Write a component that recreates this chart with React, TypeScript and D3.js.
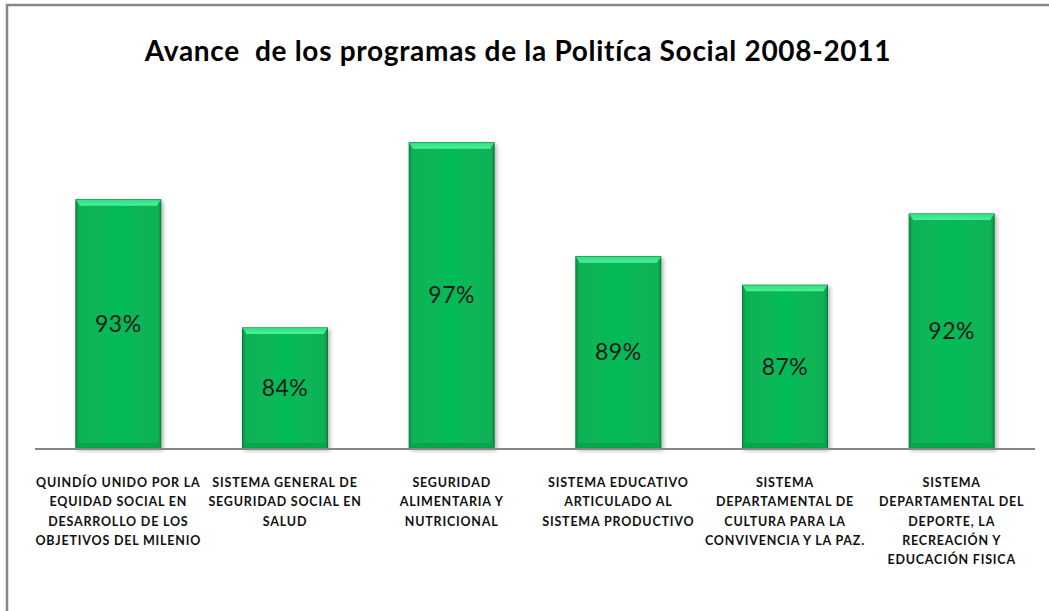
import { useRef, useEffect } from 'react';
import * as d3 from 'd3';

const categories: string[][] = [
  ['QUINDÍO UNIDO POR LA', 'EQUIDAD SOCIAL EN', 'DESARROLLO DE LOS', 'OBJETIVOS DEL MILENIO'],
  ['SISTEMA GENERAL DE', 'SEGURIDAD SOCIAL EN', 'SALUD'],
  ['SEGURIDAD', 'ALIMENTARIA Y', 'NUTRICIONAL'],
  ['SISTEMA EDUCATIVO', 'ARTICULADO AL', 'SISTEMA PRODUCTIVO'],
  ['SISTEMA', 'DEPARTAMENTAL DE', 'CULTURA PARA LA', 'CONVIVENCIA Y LA PAZ.'],
  ['SISTEMA', 'DEPARTAMENTAL DEL', 'DEPORTE, LA', 'RECREACIÓN Y', 'EDUCACIÓN FISICA'],
];
const values = [93, 84, 97, 89, 87, 92];
const title = 'Avance  de los programas de la Politíca Social 2008-2011';

const W = 1049;
const H = 611;

export default function App() {
  const svgRef = useRef<SVGSVGElement>(null);

  useEffect(() => {
    document.body.style.margin = '0';
    if (!svgRef.current) return;
    const svg = d3.select(svgRef.current);
    svg.selectAll('*').remove();

    const left = 35, right = 1035, top = 100, bottom = 448;

    const defs = svg.append('defs');
    const grad = defs.append('linearGradient').attr('id', 'barGrad').attr('x1', 0).attr('x2', 1).attr('y1', 0).attr('y2', 0);
    grad.append('stop').attr('offset', '0%').attr('stop-color', '#0a8f45');
    grad.append('stop').attr('offset', '4%').attr('stop-color', '#08b255');
    grad.append('stop').attr('offset', '50%').attr('stop-color', '#06bb58');
    grad.append('stop').attr('offset', '96%').attr('stop-color', '#08b255');
    grad.append('stop').attr('offset', '100%').attr('stop-color', '#0a8f45');
    const topGrad = defs.append('linearGradient').attr('id', 'topGrad').attr('x1', 0).attr('x2', 0).attr('y1', 0).attr('y2', 1);
    topGrad.append('stop').attr('offset', '0%').attr('stop-color', '#2ee07f');
    topGrad.append('stop').attr('offset', '100%').attr('stop-color', '#4cf09a');
    const shadow = defs.append('filter').attr('id', 'shadow').attr('x', '-20%').attr('y', '-10%').attr('width', '140%').attr('height', '120%');
    shadow.append('feDropShadow').attr('dx', 2).attr('dy', 2).attr('stdDeviation', 2).attr('flood-color', '#000').attr('flood-opacity', 0.3);

    // border
    svg.append('path')
      .attr('d', `M7,${H} V5 H${W}`)
      .attr('fill', 'none')
      .attr('stroke', '#878787')
      .attr('stroke-width', 2.5);

    svg.append('text')
      .attr('x', 518)
      .attr('y', 61)
      .attr('text-anchor', 'middle')
      .attr('font-family', 'Lato, sans-serif')
      .attr('font-weight', 'bold')
      .attr('font-size', '28px')
      .attr('letter-spacing', '0.7px')
      .attr('fill', '#000')
      .style('white-space', 'pre')
      .text(title);

    const x = d3.scaleBand<number>()
      .domain(d3.range(values.length))
      .range([left, right])
      .paddingInner(0.49)
      .paddingOuter(0.245);

    const y = d3.scaleLinear()
      .domain([75.57, 100])
      .range([bottom, top]);

    const bars = svg.append('g');
    values.forEach((v, i) => {
      const bx = x(i)!;
      const bw = x.bandwidth();
      const by = y(v);
      const bh = bottom - by;
      const g = bars.append('g');
      g.append('rect')
        .attr('x', bx).attr('y', by).attr('width', bw).attr('height', bh)
        .attr('fill', 'url(#barGrad)')
        .attr('stroke', '#0b7a3b')
        .attr('stroke-width', 1)
        .attr('filter', 'url(#shadow)');
      // top bevel
      g.append('path')
        .attr('d', `M${bx},${by} H${bx + bw} L${bx + bw - 4},${by + 6} H${bx + 4} Z`)
        .attr('fill', 'url(#topGrad)');
      // bottom bevel
      g.append('path')
        .attr('d', `M${bx},${bottom} H${bx + bw} L${bx + bw - 4},${bottom - 5} H${bx + 4} Z`)
        .attr('fill', '#07a34d');
      g.append('text')
        .attr('x', bx + bw / 2)
        .attr('y', (by + bottom) / 2)
        .attr('dy', '0.35em')
        .attr('text-anchor', 'middle')
        .attr('font-family', 'Lato, sans-serif')
        .attr('font-size', '23px')
        .attr('letter-spacing', '0.5px')
        .attr('fill', '#1a1a1a')
        .text(`${v}%`);
    });

    svg.append('line')
      .attr('x1', left).attr('x2', right)
      .attr('y1', bottom + 1).attr('y2', bottom + 1)
      .attr('stroke', '#878787')
      .attr('stroke-width', 2);

    const labels = svg.append('g');
    categories.forEach((lines, i) => {
      const cx = x(i)! + x.bandwidth() / 2;
      const t = labels.append('text')
        .attr('text-anchor', 'middle')
        .attr('font-family', 'Lato, sans-serif')
        .attr('font-weight', 'bold')
        .attr('font-size', '12.5px')
        .attr('letter-spacing', '0.8px')
        .attr('fill', '#111');
      lines.forEach((ln, j) => {
        t.append('tspan')
          .attr('x', cx)
          .attr('y', 487 + j * 19.3)
          .text(ln);
      });
    });
  }, []);

  return <svg ref={svgRef} width={W} height={H} style={{ display: 'block', background: '#fff' }} />;
}
